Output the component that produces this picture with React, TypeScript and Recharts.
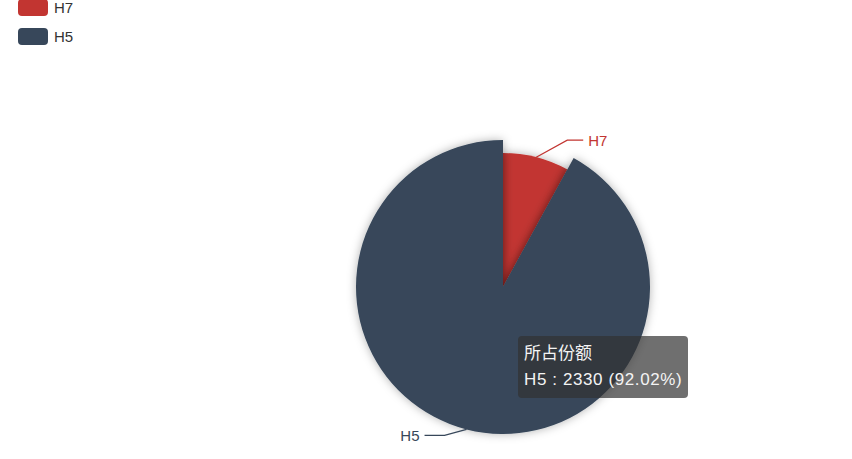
import React from "react";
import { PieChart, Pie, Cell } from "recharts";

const names = ["H7", "H5"];
const values = [202, 2330];
const colors = ["#c23531", "#37475a"];
const tooltipTitle = "所占份额";

const data = names.map((n, i) => ({ name: n, value: values[i] }));
const total = values.reduce((a, b) => a + b, 0);

const FONT = "'Liberation Sans', 'Noto Sans CJK SC', sans-serif";
const RAD = Math.PI / 180;

const makeLabel = (only: string) => (props: any) => {
  const { cx, cy, midAngle, outerRadius, name, index } = props;
  if (name !== only) return null;
  const sx = cx + outerRadius * Math.cos(-midAngle * RAD);
  const sy = cy + outerRadius * Math.sin(-midAngle * RAD);
  const right = Math.cos(-midAngle * RAD) >= 0;
  const ex = right ? sx + 31 : sx - 22;
  const ey = right ? sy - 17 : sy + 6;
  const hx = right ? ex + 16 : ex - 20;
  const tx = right ? hx + 5 : hx - 5;
  const color = colors[names.indexOf(name)];
  return (
    <g key={`lab-${only}-${index}`}>
      <polyline
        points={`${sx},${sy} ${ex},${ey} ${hx},${ey}`}
        fill="none"
        stroke={color}
        strokeWidth={1.2}
      />
      <text
        x={tx}
        y={ey}
        fill={color}
        fontSize={15}
        fontFamily={FONT}
        textAnchor={right ? "start" : "end"}
        dominantBaseline="central"
      >
        {name}
      </text>
    </g>
  );
};

export default function App() {
  const hi = 1;
  const pct = ((values[hi] / total) * 100).toFixed(2);
  return (
    <div
      style={{
        position: "absolute",
        left: 0,
        top: 0,
        width: 852,
        height: 459,
        background: "#fff",
        overflow: "hidden",
      }}
    >
      <svg width={0} height={0} style={{ position: "absolute" }}>
        <defs>
          <filter id="sliceShadow" x="-20%" y="-20%" width="140%" height="140%">
            <feDropShadow dx="0" dy="0" stdDeviation="5" floodColor="#000" floodOpacity="0.3" />
          </filter>
        </defs>
      </svg>
      <div style={{ position: "absolute", left: 18, top: -1, fontFamily: FONT }}>
        {names.map((n, i) => (
          <div
            key={n}
            style={{ display: "flex", alignItems: "center", height: 17, marginBottom: 12 }}
          >
            <div
              style={{
                width: 30,
                height: 17,
                borderRadius: 4,
                background: colors[i],
                marginRight: 6,
              }}
            />
            <span style={{ fontSize: 15, color: "#333" }}>{n}</span>
          </div>
        ))}
      </div>
      <PieChart width={852} height={459} margin={{ top: 0, right: 0, bottom: 0, left: 0 }}>
        <Pie
          data={data}
          dataKey="value"
          nameKey="name"
          cx={503}
          cy={287}
          innerRadius={0}
          outerRadius={134}
          startAngle={90}
          endAngle={-270}
          stroke="none"
          isAnimationActive={false}
          labelLine={false}
          label={makeLabel("H7")}
        >
          {data.map((d, i) => (
            <Cell key={d.name} fill={colors[i]} style={{ filter: "url(#sliceShadow)" }} />
          ))}
        </Pie>
        <Pie
          data={data}
          dataKey="value"
          nameKey="name"
          cx={503}
          cy={287}
          innerRadius={0}
          outerRadius={147}
          startAngle={90}
          endAngle={-270}
          stroke="none"
          legendType="none"
          isAnimationActive={false}
          labelLine={false}
          label={makeLabel("H5")}
        >
          {data.map((d, i) => (
            <Cell
              key={d.name}
              fill={i === hi ? colors[i] : "transparent"}
              style={i === hi ? { filter: "url(#sliceShadow)" } : undefined}
            />
          ))}
        </Pie>
      </PieChart>
      <div
        style={{
          position: "absolute",
          left: 518,
          top: 336,
          width: 170,
          height: 62,
          boxSizing: "border-box",
          padding: "5px 6px",
          borderRadius: 4,
          background: "rgba(50,50,50,0.7)",
          color: "#f4f4f4",
          fontFamily: FONT,
          fontSize: 17,
          lineHeight: "26px",
          whiteSpace: "nowrap",
        }}
      >
        <div>{tooltipTitle}</div>
        <div style={{ letterSpacing: 0.6 }}>
          {names[hi]} : {values[hi]} ({pct}%)
        </div>
      </div>
    </div>
  );
}
